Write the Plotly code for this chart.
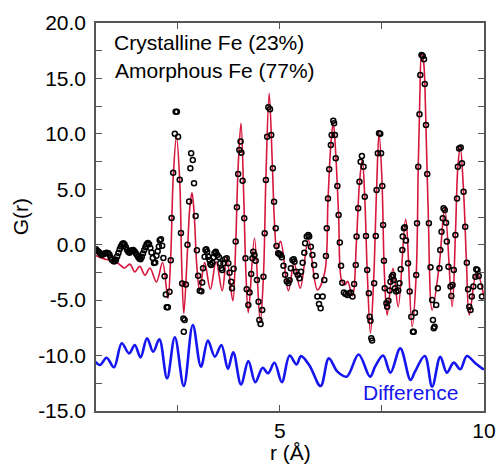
import plotly.graph_objects as go

# observed G(r) (open circles)
r_obs = [0.50, 0.53, 0.56, 0.60, 0.64, 0.68, 0.72, 0.76, 0.80, 0.83, 0.86, 0.89, 0.93, 0.96, 0.99,
         1.02, 1.05, 1.08, 1.11, 1.14, 1.17, 1.20, 1.23, 1.26, 1.29, 1.32, 1.35, 1.38, 1.41, 1.44,
         1.47, 1.50, 1.53, 1.56, 1.59, 1.62, 1.65, 1.68, 1.71, 1.74, 1.77, 1.80, 1.83, 1.86, 1.89,
         1.92, 1.95, 1.98, 2.01, 2.04, 2.06, 2.09, 2.12, 2.15, 2.18, 2.21, 2.23, 2.26, 2.30, 2.33,
         2.35, 2.39, 2.43, 2.45, 2.48, 2.51, 2.55, 2.58, 2.61, 2.64, 2.65, 2.67, 2.70, 2.74, 2.78,
         2.81, 2.83, 2.87, 2.90, 2.94, 2.97, 3.00, 3.04, 3.08, 3.10, 3.12, 3.16, 3.18, 3.20, 3.22,
         3.25, 3.28, 3.30, 3.32, 3.35, 3.38, 3.40, 3.43, 3.44, 3.47, 3.51, 3.54, 3.57, 3.59, 3.62,
         3.66, 3.70, 3.74, 3.77, 3.81, 3.83, 3.87, 3.92, 3.95, 3.98, 4.01, 4.04, 4.06, 4.09, 4.13,
         4.16, 4.19, 4.23, 4.26, 4.30, 4.33, 4.35, 4.38, 4.41, 4.44, 4.48, 4.50, 4.53, 4.57, 4.60,
         4.63, 4.66, 4.69, 4.72, 4.76, 4.79, 4.83, 4.86, 4.90, 4.92, 4.96, 4.99, 5.02, 5.05, 5.09,
         5.13, 5.17, 5.21, 5.24, 5.27, 5.31, 5.34, 5.36, 5.40, 5.44, 5.48, 5.52, 5.56, 5.60, 5.62,
         5.66, 5.70, 5.72, 5.76, 5.80, 5.84, 5.88, 5.92, 5.96, 6.00, 6.05, 6.09, 6.13, 6.15, 6.18,
         6.21, 6.25, 6.27, 6.31, 6.33, 6.35, 6.37, 6.41, 6.44, 6.47, 6.50, 6.53, 6.57, 6.61, 6.66,
         6.70, 6.74, 6.78, 6.82, 6.86, 6.88, 6.92, 6.95, 6.98, 7.01, 7.05, 7.08, 7.11, 7.14, 7.18,
         7.20, 7.22, 7.24, 7.26, 7.31, 7.35, 7.37, 7.40, 7.43, 7.46, 7.48, 7.51, 7.53, 7.55, 7.57,
         7.61, 7.63, 7.66, 7.69, 7.71, 7.74, 7.77, 7.79, 7.82, 7.85, 7.90, 7.93, 7.96, 8.00, 8.01,
         8.04, 8.06, 8.09, 8.14, 8.18, 8.22, 8.26, 8.28, 8.31, 8.34, 8.36, 8.39, 8.42, 8.44, 8.47,
         8.50, 8.53, 8.55, 8.58, 8.61, 8.65, 8.69, 8.73, 8.75, 8.77, 8.79, 8.83, 8.87, 8.91, 8.93,
         8.96, 8.99, 9.01, 9.04, 9.07, 9.09, 9.13, 9.18, 9.20, 9.23, 9.26, 9.30, 9.34, 9.36, 9.39,
         9.43, 9.46, 9.50, 9.54, 9.58, 9.61, 9.64, 9.67, 9.70, 9.74, 9.79, 9.81, 9.84, 9.87, 9.91,
         9.95]
g_obs = [-0.42, -0.55, -0.63, -0.78, -0.93, -0.87, -0.78, -0.72, -0.78, -0.90, -1.15, -1.35, -1.50, -1.50, -1.35,
         -1.05, -0.75, -0.40, -0.15, 0.05, 0.13, 0.02, -0.20, -0.45, -0.63, -0.72, -0.60, -0.50, -0.48, -0.58,
         -0.75, -0.90, -1.08, -1.25, -1.30, -1.10, -0.80, -0.50, -0.20, 0.05, 0.15, 0.05, -0.30, -0.70, -1.20,
         -1.65, -1.60, -1.00, -0.60, -0.15, 0.40, 0.50, -0.10, -1.20, -2.85, -4.50, -5.65, -5.65, -4.25, -1.40,
         2.40, 6.50, 10.00, 12.00, 12.00, 9.75, 5.85, 1.05, -3.50, -6.65, -7.85, -6.80, -3.60, 0.00, 3.90,
         6.90, 8.25, 7.65, 5.55, 2.60, -0.50, -2.80, -4.15, -4.20, -3.40, -2.13, -1.08, -0.48, -0.42, -0.63,
         -1.08, -1.38, -1.74, -1.83, -1.62, -1.14, -0.78, -0.63, -0.72, -0.93, -1.14, -1.68, -2.13, -2.28, -1.68,
         -1.32, -1.23, -1.68, -2.52, -3.33, -3.93, -2.16, 0.28, 3.37, 6.38, 8.54, 9.30, 8.30, 5.78, 2.38,
         -1.23, -4.02, -5.44, -4.32, -2.64, -1.23, -0.63, -0.93, -1.44, -3.18, -5.14, -6.80, -7.15, -5.89, -2.88,
         1.03, 5.84, 9.75, 12.39, 12.21, 9.90, 6.89, 3.88, 1.48, -0.12, -0.78, -0.84, -0.93, -1.14, -1.90,
         -2.70, -3.30, -3.45, -3.20, -2.13, -1.38, -1.32, -1.53, -2.43, -2.73, -3.03, -2.43, -1.62, -0.72, 0.13,
         0.73, 0.88, 0.73, -0.18, -0.93, -1.83, -2.82, -4.68, -5.35, -5.74, -4.68, -3.18, -1.02, 1.48, 4.18,
         6.80, 8.99, 9.90, 11.19, 10.95, 9.90, 7.80, 5.30, 2.68, 0.19, -1.89, -3.42, -4.32, -4.44, -4.53,
         -4.38, -4.32, -4.68, -3.54, -1.83, 0.73, 3.28, 5.69, 7.49, 8.00, 7.04, 4.33, 0.79, -2.28, -4.38,
         -6.49, -6.85, -8.44, -8.65, -3.48, 0.79, 4.93, 8.24, 10.05, 10.00, 8.24, 5.30, 1.78, -1.44, -3.93,
         -5.29, -5.59, -5.05, -4.14, -3.33, -2.88, -2.73, -3.18, -3.93, -4.23, -4.14, -3.48, -2.22, -0.47, 0.73,
         1.48, 1.57, 0.37, -1.68, -4.23, -6.49, -7.84, -7.84, -6.13, -2.73, 1.93, 7.04, 11.76, 15.31, 17.11,
         17.02, 16.72, 14.50, 10.80, 6.38, 1.93, -2.04, -4.99, -6.79, -7.54, -7.39, -5.44, -3.93, -2.13, -0.47,
         1.18, 2.38, 3.28, 3.13, 1.99, 0.28, -1.98, -3.78, -4.62, -3.63, -2.28, 0.88, 4.18, 7.04, 8.69,
         8.78, 7.34, 4.78, 1.63, -1.62, -4.02, -5.59, -5.89, -4.68, -3.78, -2.88, -2.22, -2.28, -2.82, -3.78,
         -4.68]

# fitted G(r), crystalline + amorphous (red line)
r_fit = [0.48, 0.60, 0.72, 0.82, 0.92, 1.00, 1.10, 1.20, 1.33, 1.45, 1.57, 1.70, 1.82, 1.98, 2.13,
         2.26, 2.33, 2.39, 2.47, 2.55, 2.60, 2.65, 2.74, 2.80, 2.85, 2.90, 2.97, 3.04, 3.16, 3.30,
         3.44, 3.59, 3.70, 3.85, 3.92, 3.98, 4.05, 4.12, 4.17, 4.23, 4.38, 4.52, 4.60, 4.66, 4.74,
         4.82, 4.87, 4.93, 5.02, 5.21, 5.35, 5.50, 5.70, 5.92, 6.10, 6.18, 6.25, 6.31, 6.37, 6.44,
         6.52, 6.60, 6.66, 6.78, 6.88, 6.95, 7.02, 7.08, 7.14, 7.22, 7.30, 7.37, 7.43, 7.50, 7.56,
         7.63, 7.77, 7.90, 8.08, 8.24, 8.34, 8.39, 8.43, 8.47, 8.52, 8.57, 8.63, 8.73, 8.90, 9.04,
         9.22, 9.30, 9.36, 9.42, 9.50, 9.57, 9.64, 9.82, 10.0]
g_fit = [-0.95, -1.15, -1.30, -1.40, -1.70, -1.60, -1.85, -2.10, -1.75, -2.45, -1.95, -2.75, -2.10, -3.35, -1.60,
         -4.85, -1.00, 6.00, 9.75, 5.80, -2.00, -6.20, -0.50, 3.50, 4.70, 3.00, -2.00, -4.15, -1.62, -4.02,
         -1.53, -4.15, -1.23, -5.05, 0.00, 7.00, 10.95, 4.00, -2.50, -6.13, 0.58, -6.94, -2.80, 6.00, 13.66,
         7.00, 2.00, -0.40, 0.30, -4.15, -1.68, -3.93, 0.42, -4.08, -2.50, 4.00, 9.00, 11.00, 8.20, 2.70,
         -3.30, -3.60, -3.30, -4.60, 0.50, 5.50, 7.70, 4.30, -2.30, -8.00, -3.00, 5.00, 10.10, 6.00, -2.50,
         -6.34, -2.13, -5.59, 2.29, -7.40, -2.70, 7.00, 13.50, 17.20, 16.50, 12.00, 3.50, -5.89, -2.00, 3.28,
         -5.59, 0.90, 7.00, 8.84, 4.80, -1.50, -6.34, -2.43, -4.70]

# difference curve, offset below (blue line)
r_diff = [0.48, 0.60, 0.76, 0.94, 1.13, 1.31, 1.45, 1.59, 1.75, 1.90, 2.05, 2.24, 2.43, 2.65, 2.87,
          3.07, 3.24, 3.41, 3.57, 3.73, 3.86, 4.05, 4.23, 4.40, 4.58, 4.71, 4.87, 5.05, 5.24, 5.41,
          5.52, 5.72, 6.00, 6.20, 6.41, 6.64, 6.93, 7.21, 7.34, 7.53, 7.71, 7.95, 8.20, 8.31, 8.55,
          8.73, 8.93, 9.09, 9.26, 9.42, 9.58, 9.79, 9.95, 10.0]
g_diff = [-10.55, -10.85, -10.19, -11.06, -8.89, -9.80, -9.04, -10.16, -8.44, -9.65, -8.53, -12.05, -8.35, -12.74, -7.24,
          -11.00, -8.65, -10.10, -9.04, -11.20, -9.70, -12.60, -10.50, -12.40, -11.10, -11.60, -10.65, -12.40, -10.00, -10.80,
          -10.05, -10.85, -12.75, -10.25, -11.45, -11.90, -9.90, -11.90, -10.95, -10.00, -11.54, -9.35, -12.20, -11.45, -10.04,
          -12.80, -10.10, -11.54, -10.64, -11.24, -10.04, -10.70, -11.15, -11.25]

x_ticks = [2.5, 5, 7.5, 10]
x_labels = ["", "5", "", "10"]
y_ticks = [-15, -12.5, -10, -7.5, -5, -2.5, 0, 2.5, 5, 7.5, 10, 12.5, 15, 17.5, 20]
y_labels = ["-15.0", "", "-10.0", "", "-5.0", "", "0.0", "", "5.0", "", "10.0", "", "15.0", "", "20.0"]

FONT = "Liberation Sans, Arial, Helvetica, sans-serif"
AXIS = "#555555"
BLUE = "#1515f0"

fig = go.Figure()
fig.add_trace(go.Scatter(x=r_fit, y=g_fit, mode="lines",
                         line=dict(color="#d6163c", width=1.6, shape="spline", smoothing=1.0)))
fig.add_trace(go.Scatter(x=r_obs, y=g_obs, mode="markers",
                         marker=dict(symbol="circle-open", size=5, color="black",
                                     line=dict(width=1.5, color="black"))))
fig.add_trace(go.Scatter(x=r_diff, y=g_diff, mode="lines",
                         line=dict(color=BLUE, width=2.6, shape="spline", smoothing=1.0)))

axis_common = dict(showline=True, linecolor=AXIS, linewidth=1.6, mirror="ticks",
                   ticks="inside", ticklen=6, tickwidth=1.4, tickcolor=AXIS,
                   showgrid=False, zeroline=False, automargin=False,
                   tickfont=dict(size=21, color="black"))

fig.update_xaxes(range=[0.5, 10], tickmode="array", tickvals=x_ticks, ticktext=x_labels,
                 ticklabelstandoff=0, **axis_common)
fig.update_yaxes(range=[-15, 20], tickmode="array", tickvals=y_ticks, ticktext=y_labels,
                 ticklabelstandoff=4, **axis_common)

# axis titles
fig.add_annotation(x=-0.195, y=0.5, xref="paper", yref="paper", text="G(r)", textangle=-90,
                   showarrow=False, xanchor="center", yanchor="middle",
                   font=dict(size=21, color="black"))
fig.add_annotation(x=0.5, y=-0.106, xref="paper", yref="paper", text="r (Å)",
                   showarrow=False, xanchor="center", yanchor="middle",
                   font=dict(size=21, color="black"))

fig.add_annotation(x=0.89, y=18.2, text="Crystalline Fe (23%)", showarrow=False,
                   xanchor="left", yanchor="middle", font=dict(size=21, color="black"))
fig.add_annotation(x=0.91, y=15.75, text="Amorphous Fe (77%)", showarrow=False,
                   xanchor="left", yanchor="middle", font=dict(size=21, color="black"))
fig.add_annotation(x=6.98, y=-13.3, text="Difference", showarrow=False,
                   xanchor="left", yanchor="middle", font=dict(size=21, color=BLUE))

fig.update_layout(width=499, height=469, showlegend=False,
                  margin=dict(l=96, r=15, t=23, b=58),
                  paper_bgcolor="white", plot_bgcolor="white",
                  font=dict(family=FONT, color="black"))

# drop the page's default body margin so the figure fills the window exactly
fig.write_html("out.html", config={"displayModeBar": False},
               post_script="document.body.style.margin='0';")
